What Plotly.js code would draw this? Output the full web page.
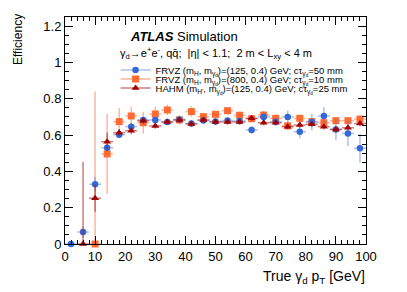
<!DOCTYPE html>
<html><head><meta charset="utf-8">
<script src="https://cdn.plot.ly/plotly-3.0.1.min.js"></script>
<style>html,body{margin:0;padding:0;background:#fff}#chart{width:407px;height:292px}</style>
</head><body><div id="chart"></div>
<script>
// ---- data ----
const frvz125X   = [2,6,10,14,18,22,26,30,34,38,42,46,50,54,58,62,66,70,74,78,82,86,90,94,98];
const frvz125Eff = [0,0.066,0.329,0.530,0.602,0.646,0.683,0.683,0.672,0.686,0.664,0.680,0.675,0.680,0.677,0.628,0.700,0.673,0.700,0.618,0.672,0.705,0.631,0.609,0.527];
const frvz125Err = [0.01,0.03,0.04,0.02,0.02,0.02,0.015,0.015,0.015,0.015,0.015,0.015,0.015,0.015,0.015,0.02,0.03,0.02,0.035,0.035,0.045,0.05,0.06,0.07,0.08];

const frvz800X      = [10,14,18,22,26,30,34,38,42,46,50,54,58,62,66,70,74,78,82,86,90,94,98];
const frvz800Eff    = [0,0.496,0.674,0.705,0.668,0.716,0.738,0.683,0.729,0.701,0.714,0.734,0.709,0.690,0.710,0.692,0.651,0.692,0.674,0.668,0.679,0.679,0.688];
const frvz800ErrUp  = [0.84,0.22,0.075,0.05,0.06,0.04,0.03,0.025,0.03,0.02,0.02,0.02,0.02,0.02,0.02,0.02,0.02,0.02,0.02,0.02,0.02,0.02,0.02];
const frvz800ErrDn  = [0,0.22,0.075,0.05,0.06,0.04,0.03,0.025,0.03,0.02,0.02,0.02,0.02,0.02,0.02,0.02,0.02,0.02,0.02,0.02,0.02,0.02,0.02];

const hahmX     = [6,10,14,18,22,26,30,34,38,42,46,50,54,58,62,66,70,74,78,82,86,90,94,98];
const hahmEff   = [0,0.252,0.563,0.613,0.624,0.679,0.650,0.672,0.683,0.661,0.683,0.672,0.672,0.672,0.692,0.668,0.668,0.646,0.655,0.659,0.646,0.631,0.640,0.664];
const hahmErrUp = [0.453,0.075,0.05,0.02,0.02,0.015,0.015,0.015,0.015,0.015,0.015,0.015,0.015,0.015,0.015,0.015,0.015,0.015,0.015,0.015,0.015,0.015,0.015,0.015];
const hahmErrDn = [0,0.075,0.05,0.02,0.02,0.015,0.015,0.015,0.015,0.015,0.015,0.015,0.015,0.015,0.015,0.015,0.015,0.015,0.015,0.015,0.015,0.015,0.015,0.015];

const binHalfWidth = 2;
const legendLabels = [
  "FRVZ (m<sub>H</sub>, m<sub>γ<sub>d</sub></sub>)=(125, 0.4) GeV; cτ<sub>γ<sub>d</sub></sub>=50 mm",
  "FRVZ (m<sub>H</sub>, m<sub>γ<sub>d</sub></sub>)=(800, 0.4) GeV; cτ<sub>γ<sub>d</sub></sub>=10 mm",
  "HAHM (m<sub>H'</sub>, m<sub>γ<sub>d</sub></sub>)=(125, 0.4) GeV; cτ<sub>γ<sub>d</sub></sub>=25 mm"
];

// ---- styles ----
const FONT = "Liberation Sans, Arial, Helvetica, sans-serif";
const blue = "#3468d4", blueErr = "rgba(70,120,220,0.45)";
const orange = "#ff6a33", orangeErr = "rgba(255,110,60,0.5)";
const red = "#a00000", redErr = "rgba(170,20,20,0.55)";

function series(x, y, up, dn, col, errCol, sym, size) {
  return {
    type: "scatter", mode: "markers", x: x, y: y, showlegend: false, cliponaxis: false,
    marker: {color: col, symbol: sym, size: size},
    error_y: {type: "data", symmetric: false, array: up, arrayminus: dn, color: errCol, thickness: 1.5, width: 0},
    error_x: {type: "constant", value: binHalfWidth, color: errCol, thickness: 1.5, width: 0},
    hoverinfo: "skip"
  };
}
function legendKey(name, col, errCol, sym, size, leg) {
  return {
    type: "scatter", mode: "lines+markers", x: [null], y: [null], name: name, legend: leg,
    line: {color: errCol, width: 1.5}, marker: {color: col, symbol: sym, size: size}
  };
}

const traces = [
  series(frvz800X, frvz800Eff, frvz800ErrUp, frvz800ErrDn, orange, orangeErr, "square", 7),
  series(frvz125X, frvz125Eff, frvz125Err, frvz125Err, blue, blueErr, "circle", 6.5),
  series(hahmX, hahmEff, hahmErrUp, hahmErrDn, red, redErr, "triangle-up", 7),
  legendKey(legendLabels[0], blue, blueErr, "circle", 6.5, "legend"),
  legendKey(legendLabels[1], orange, orangeErr, "square", 7, "legend2"),
  legendKey(legendLabels[2], red, redErr, "triangle-up", 7, "legend3")
];

function legendBox(y) {
  return {x: 0.168, y: y, xanchor: "left", yanchor: "middle", bgcolor: "rgba(0,0,0,0)",
          borderwidth: 0, itemwidth: 30, font: {family: FONT, size: 9.5, color: "#000"}, tracegroupgap: 0};
}

const axisCommon = {
  showline: true, linecolor: "#000", linewidth: 1, mirror: "ticks",
  ticks: "inside", tickcolor: "#000", tickwidth: 1, showgrid: false, zeroline: false,
  tickfont: {family: FONT, size: 13, color: "#000"}
};

const layout = {
  width: 407, height: 292,
  margin: {l: 65, r: 41, t: 17, b: 48},
  paper_bgcolor: "#fff", plot_bgcolor: "#fff",
  font: {family: FONT, color: "#000"},
  xaxis: Object.assign({}, axisCommon, {
    range: [0, 100], dtick: 10, tick0: 0, ticklen: 8,
    minor: {dtick: 2, ticklen: 4, ticks: "inside", tickcolor: "#000", showgrid: false}
  }),
  yaxis: Object.assign({}, axisCommon, {
    range: [0, 1.25], dtick: 0.2, tick0: 0, ticklen: 8,
    minor: {dtick: 0.05, ticklen: 4, ticks: "inside", tickcolor: "#000", showgrid: false}
  }),
  legend: legendBox(0.7665),
  legend2: legendBox(0.7269),
  legend3: legendBox(0.6872),
  annotations: [
    {xref: "paper", yref: "paper", x: 0.209, y: 0.916, xanchor: "left", yanchor: "middle", showarrow: false,
     text: "<b><i>ATLAS</i></b> Simulation", font: {family: FONT, size: 13, color: "#000"}},
    {xref: "paper", yref: "paper", x: 0.176, y: 0.843, xanchor: "left", yanchor: "middle", showarrow: false,
     text: "γ<sub>d</sub>→e<sup>+</sup>e<sup>-</sup>, qq̄;  |η| < 1.1;  2 m < L<sub>xy</sub> < 4 m",
     font: {family: FONT, size: 11, color: "#000"}},
    {xref: "paper", yref: "paper", x: 1.003, y: -0.095, xanchor: "right", yanchor: "top", showarrow: false,
     text: "True γ<sub>d</sub> p<sub>T</sub> [GeV]", font: {family: FONT, size: 14, color: "#000"}},
    {xref: "paper", yref: "paper", x: -0.156, y: 1.02, xanchor: "center", yanchor: "top", showarrow: false,
     textangle: -90, text: "Efficiency", font: {family: FONT, size: 12, color: "#000"}}
  ]
};

Plotly.newPlot("chart", traces, layout, {displayModeBar: false, staticPlot: true});
</script>
</body></html>
